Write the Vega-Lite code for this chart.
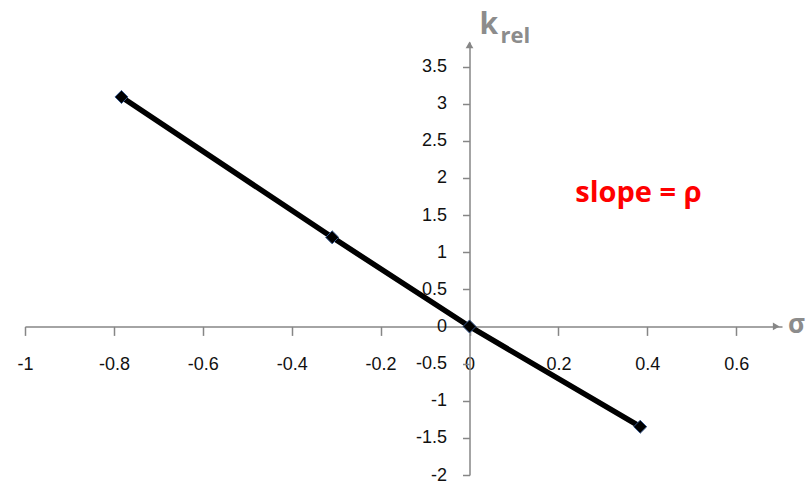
{
  "$schema": "https://vega.github.io/schema/vega-lite/v6.json",
  "width": 757,
  "height": 433,
  "autosize": "none",
  "padding": {"left": 25, "top": 42, "right": 24, "bottom": 8},
  "background": "white",
  "config": {"view": {"stroke": null}},
  "datasets": {
    "points": [
      {"sigma": -0.783, "krel": 3.09},
      {"sigma": -0.309, "krel": 1.2},
      {"sigma": 0.0, "krel": 0.0},
      {"sigma": 0.384, "krel": -1.35}
    ],
    "slope": [{"sigma": 0.38, "krel": 1.8, "label": "slope = ρ"}],
    "ytitle": [{"sigma": 0, "krel": 3.83}],
    "xtitle": [{"sigma": 0.703, "krel": 0}],
    "xarrow": [{"sigma": 0.69, "krel": 0}],
    "yarrow": [{"sigma": 0, "krel": 3.79}]
  },
  "layer": [
    {
      "data": {"name": "points"},
      "mark": {"type": "line", "color": "black", "strokeWidth": 5.5, "strokeCap": "butt"},
      "encoding": {
        "x": {
          "field": "sigma", "type": "quantitative",
          "scale": {"domain": [-1, 0.703], "nice": false, "zero": false},
          "axis": {
            "values": [-1, -0.8, -0.6, -0.4, -0.2, 0, 0.2, 0.4, 0.6],
            "tickCount": 30,
            "offset": -148.6,
            "title": null, "grid": false,
            "domainColor": "#868686", "domainWidth": 1.5,
            "tickColor": "#868686", "tickWidth": 1.5, "tickSize": 9,
            "labelPadding": 20, "labelFont": "Liberation Sans", "labelFontSize": 18,
            "labelColor": "#111", "labelFlush": false, "labelOverlap": false,
            "labelExpr": "toString(datum.value)"
          }
        },
        "y": {
          "field": "krel", "type": "quantitative",
          "scale": {"domain": [-2, 3.83], "nice": false, "zero": false},
          "axis": {
            "values": [-2, -1.5, -1, -0.5, 0, 0.5, 1, 1.5, 2, 2.5, 3, 3.5],
            "tickCount": 30,
            "offset": -444.5,
            "title": null, "grid": false,
            "domainColor": "#868686", "domainWidth": 1.5,
            "tickColor": "#868686", "tickWidth": 1.5, "tickSize": 7,
            "labelPadding": 16, "labelFont": "Liberation Sans", "labelFontSize": 18,
            "labelColor": "#111", "labelFlush": false, "labelOverlap": false,
            "labelExpr": "toString(datum.value)"
          }
        }
      }
    },
    {
      "data": {"name": "points"},
      "mark": {"type": "point", "shape": "diamond", "filled": true, "color": "black", "stroke": "#34558a", "strokeWidth": 1, "size": 170, "opacity": 1},
      "encoding": {
        "x": {"field": "sigma", "type": "quantitative"},
        "y": {"field": "krel", "type": "quantitative"}
      }
    },
    {
      "data": {"name": "slope"},
      "mark": {"type": "text", "color": "#ff0000", "font": "Open Sans", "fontWeight": "bold", "fontSize": 29, "align": "center", "baseline": "middle"},
      "encoding": {
        "x": {"field": "sigma", "type": "quantitative"},
        "y": {"field": "krel", "type": "quantitative"},
        "text": {"field": "label"}
      }
    },
    {
      "data": {"name": "ytitle"},
      "mark": {"type": "text", "text": "k", "color": "#8c8c8c", "font": "Open Sans", "fontWeight": "bold", "fontSize": 30, "align": "left", "baseline": "alphabetic", "dx": 10, "dy": -8},
      "encoding": {
        "x": {"field": "sigma", "type": "quantitative"},
        "y": {"field": "krel", "type": "quantitative"}
      }
    },
    {
      "data": {"name": "ytitle"},
      "mark": {"type": "text", "text": "rel", "color": "#8c8c8c", "font": "Open Sans", "fontWeight": "bold", "fontSize": 22, "align": "left", "baseline": "alphabetic", "dx": 31, "dy": 1},
      "encoding": {
        "x": {"field": "sigma", "type": "quantitative"},
        "y": {"field": "krel", "type": "quantitative"}
      }
    },
    {
      "data": {"name": "xtitle"},
      "mark": {"type": "text", "text": "σ", "color": "#8c8c8c", "font": "Open Sans", "fontWeight": "bold", "fontSize": 26, "align": "left", "baseline": "middle", "dx": 6, "dy": -1},
      "encoding": {
        "x": {"field": "sigma", "type": "quantitative"},
        "y": {"field": "krel", "type": "quantitative"}
      }
    },
    {
      "data": {"name": "xarrow"},
      "mark": {"type": "point", "shape": "triangle-right", "filled": true, "color": "#868686", "size": 60, "opacity": 1},
      "encoding": {
        "x": {"field": "sigma", "type": "quantitative"},
        "y": {"field": "krel", "type": "quantitative"}
      }
    },
    {
      "data": {"name": "yarrow"},
      "mark": {"type": "point", "shape": "triangle-up", "filled": true, "color": "#868686", "size": 60, "opacity": 1},
      "encoding": {
        "x": {"field": "sigma", "type": "quantitative"},
        "y": {"field": "krel", "type": "quantitative"}
      }
    }
  ]
}
